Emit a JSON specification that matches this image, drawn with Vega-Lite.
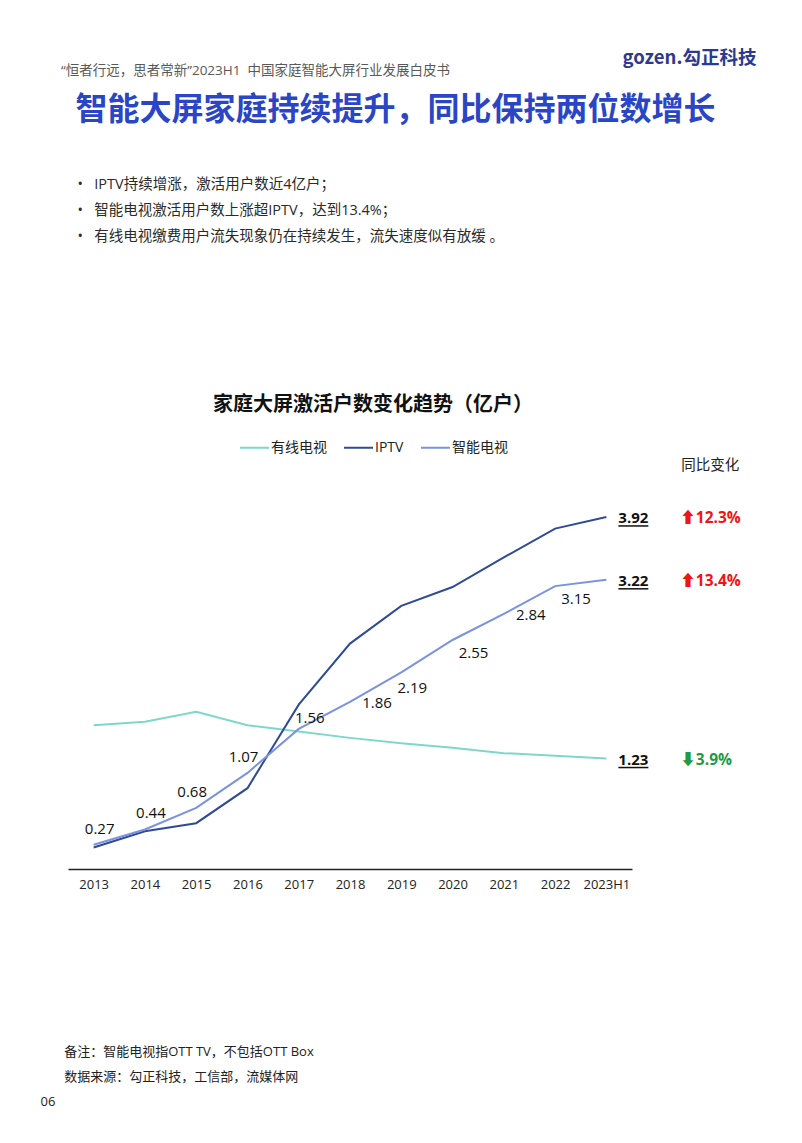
{
  "$schema": "https://vega.github.io/schema/vega-lite/v6.json",
  "width": 564,
  "height": 400,
  "autosize": {"type": "none"},
  "padding": {"left": 68, "top": 469, "right": 170, "bottom": 274},
  "background": "white",
  "config": {
    "view": {"stroke": null},
    "font": "Open Sans, Noto Sans CJK SC",
    "text": {"font": "Open Sans, Noto Sans CJK SC"}
  },
  "title": {
    "text": "“恒者行远，思者常新”2023H1\u00a0\u00a0中国家庭智能大屏行业发展白皮书",
    "subtitle": "\u200b\u00a0\u00a0智能大屏家庭持续提升，同比保持两位数增长",
    "anchor": "start",
    "frame": "group",
    "font": "Open Sans, Noto Sans CJK SC",
    "fontSize": 13.5,
    "fontWeight": "normal",
    "color": "#595959",
    "subtitleFont": "Noto Sans CJK SC",
    "subtitleFontSize": 32,
    "subtitleFontWeight": "bold",
    "subtitleColor": "#2A45C6",
    "subtitlePadding": 18,
    "offset": 0,
    "dx": -7,
    "dy": 78
  },
  "data": {
    "values": [
      {"year": "2013", "series": "有线电视", "value": 1.60},
      {"year": "2014", "series": "有线电视", "value": 1.64},
      {"year": "2015", "series": "有线电视", "value": 1.75},
      {"year": "2016", "series": "有线电视", "value": 1.60},
      {"year": "2017", "series": "有线电视", "value": 1.53},
      {"year": "2018", "series": "有线电视", "value": 1.46},
      {"year": "2019", "series": "有线电视", "value": 1.40},
      {"year": "2020", "series": "有线电视", "value": 1.35},
      {"year": "2021", "series": "有线电视", "value": 1.29},
      {"year": "2022", "series": "有线电视", "value": 1.26},
      {"year": "2023H1", "series": "有线电视", "value": 1.23, "yoy": "⬇3.9%"},
      {"year": "2013", "series": "IPTV", "value": 0.24},
      {"year": "2014", "series": "IPTV", "value": 0.42},
      {"year": "2015", "series": "IPTV", "value": 0.51},
      {"year": "2016", "series": "IPTV", "value": 0.90},
      {"year": "2017", "series": "IPTV", "value": 1.83},
      {"year": "2018", "series": "IPTV", "value": 2.51},
      {"year": "2019", "series": "IPTV", "value": 2.93},
      {"year": "2020", "series": "IPTV", "value": 3.14},
      {"year": "2021", "series": "IPTV", "value": 3.47},
      {"year": "2022", "series": "IPTV", "value": 3.79},
      {"year": "2023H1", "series": "IPTV", "value": 3.92, "yoy": "⬆12.3%"},
      {"year": "2013", "series": "智能电视", "value": 0.27},
      {"year": "2014", "series": "智能电视", "value": 0.44},
      {"year": "2015", "series": "智能电视", "value": 0.68},
      {"year": "2016", "series": "智能电视", "value": 1.07},
      {"year": "2017", "series": "智能电视", "value": 1.56},
      {"year": "2018", "series": "智能电视", "value": 1.86},
      {"year": "2019", "series": "智能电视", "value": 2.19},
      {"year": "2020", "series": "智能电视", "value": 2.55},
      {"year": "2021", "series": "智能电视", "value": 2.84},
      {"year": "2022", "series": "智能电视", "value": 3.15},
      {"year": "2023H1", "series": "智能电视", "value": 3.22, "yoy": "⬆13.4%"}
    ]
  },
  "encoding": {
    "x": {
      "field": "year",
      "type": "ordinal",
      "scale": {"type": "point", "padding": 0.5},
      "axis": {
        "domain": true,
        "domainColor": "#222222",
        "domainWidth": 1.5,
        "ticks": false,
        "grid": false,
        "labelAngle": 0,
        "labelFontSize": 13,
        "labelColor": "#222222",
        "labelPadding": 9,
        "title": ["\u200b\u00a0\u00a0\u00a0\u00a0\u00a0\u00a0\u00a0备注：智能电视指OTT TV，不包括OTT Box", "\u200b\u00a0\u00a0\u00a0\u00a0\u00a0\u00a0\u00a0数据来源：勾正科技，工信部，流媒体网", "06"],
        "titleFontSize": 13,
        "titleFontWeight": "normal",
        "titleColor": "#222222",
        "titleAlign": "left",
        "titleAnchor": null,
        "titleBaseline": "top",
        "titleLineHeight": 25,
        "titleX": -28,
        "titleY": 176
      }
    },
    "y": {
      "field": "value",
      "type": "quantitative",
      "scale": {"domain": [0, 4.454], "nice": false, "zero": true},
      "axis": null
    }
  },
  "layer": [
    {
      "mark": {"type": "line", "strokeWidth": 2},
      "encoding": {
        "y": {
          "field": "value",
          "type": "quantitative",
          "scale": {"domain": [0, 4.454], "nice": false, "zero": true},
          "axis": {
            "orient": "left",
            "domain": false,
            "ticks": false,
            "labels": false,
            "grid": false,
            "title": ["•\u00a0\u00a0\u00a0IPTV持续增涨，激活用户数近4亿户；", "•\u00a0\u00a0\u00a0智能电视激活用户数上涨超IPTV，达到13.4%；", "•\u00a0\u00a0\u00a0有线电视缴费用户流失现象仍在持续发生，流失速度似有放缓 。"],
            "titleAngle": 0,
            "titleAlign": "left",
            "titleAnchor": null,
            "titleBaseline": "top",
            "titleFontSize": 14.5,
            "titleFontWeight": "normal",
            "titleColor": "#2A2A2A",
            "titleLineHeight": 26,
            "titleX": 9,
            "titleY": -292
          }
        },
        "color": {
          "field": "series",
          "type": "nominal",
          "scale": {"domain": ["有线电视", "IPTV", "智能电视"], "range": ["#7DD8C9", "#2F4B95", "#7B92E0"]},
          "legend": {
            "orient": "none",
            "legendX": 145,
            "legendY": -74,
            "direction": "horizontal",
            "title": "家庭大屏激活户数变化趋势（亿户）",
            "titleFont": "Noto Sans CJK SC",
            "titleFontSize": 20,
            "titleFontWeight": "bold",
            "titleColor": "#111111",
            "titleAnchor": "middle",
            "titleLimit": 600,
            "titlePadding": 17,
            "labelFontSize": 14,
            "labelColor": "#222222",
            "labelLimit": 200,
            "labelOffset": 1,
            "symbolType": "stroke",
            "symbolSize": 841,
            "symbolStrokeWidth": 2,
            "columnPadding": 13,
            "padding": 0
          }
        }
      }
    },
    {
      "transform": [{"filter": {"field": "series", "equal": "智能电视"}}, {"filter": {"field": "year", "oneOf": ["2013", "2014"]}}],
      "mark": {"type": "text", "fontSize": 15, "color": "#111111", "dx": 6, "dy": -16, "baseline": "middle"},
      "encoding": {"text": {"field": "value", "type": "quantitative", "format": ".2f"}}
    },
    {
      "transform": [{"filter": {"field": "series", "equal": "智能电视"}}, {"filter": {"field": "year", "oneOf": ["2015", "2016"]}}],
      "mark": {"type": "text", "fontSize": 15, "color": "#111111", "dx": -4, "dy": -16, "baseline": "middle"},
      "encoding": {"text": {"field": "value", "type": "quantitative", "format": ".2f"}}
    },
    {
      "transform": [{"filter": {"field": "series", "equal": "智能电视"}}, {"filter": {"field": "year", "oneOf": ["2017"]}}],
      "mark": {"type": "text", "fontSize": 15, "color": "#111111", "dx": 11, "dy": -11, "baseline": "middle"},
      "encoding": {"text": {"field": "value", "type": "quantitative", "format": ".2f"}}
    },
    {
      "transform": [{"filter": {"field": "series", "equal": "智能电视"}}, {"filter": {"field": "year", "oneOf": ["2018", "2021"]}}],
      "mark": {"type": "text", "fontSize": 15, "color": "#111111", "dx": 27, "dy": 1, "baseline": "middle"},
      "encoding": {"text": {"field": "value", "type": "quantitative", "format": ".2f"}}
    },
    {
      "transform": [{"filter": {"field": "series", "equal": "智能电视"}}, {"filter": {"field": "year", "oneOf": ["2019"]}}],
      "mark": {"type": "text", "fontSize": 15, "color": "#111111", "dx": 11, "dy": 16, "baseline": "middle"},
      "encoding": {"text": {"field": "value", "type": "quantitative", "format": ".2f"}}
    },
    {
      "transform": [{"filter": {"field": "series", "equal": "智能电视"}}, {"filter": {"field": "year", "oneOf": ["2020", "2022"]}}],
      "mark": {"type": "text", "fontSize": 15, "color": "#111111", "dx": 21, "dy": 13, "baseline": "middle"},
      "encoding": {"text": {"field": "value", "type": "quantitative", "format": ".2f"}}
    },
    {
      "transform": [{"filter": {"field": "year", "equal": "2023H1"}}],
      "mark": {"type": "text", "fontSize": 15, "fontWeight": "bold", "color": "#111111", "align": "left", "dx": 12, "dy": 1, "baseline": "middle"},
      "encoding": {"text": {"field": "value", "type": "quantitative", "format": ".2f"}}
    },
    {
      "transform": [{"filter": {"field": "year", "equal": "2023H1"}}],
      "mark": {"type": "tick", "orient": "horizontal", "size": 30, "thickness": 1.5, "xOffset": 27, "yOffset": 9, "color": "#111111", "opacity": 1},
      "encoding": {
        "y": {
          "field": "value",
          "type": "quantitative",
          "scale": {"domain": [0, 4.454], "nice": false, "zero": true},
          "axis": {
            "orient": "right",
            "domain": false,
            "ticks": false,
            "labels": false,
            "grid": false,
            "title": "gozen.勾正科技",
            "titleAngle": 0,
            "titleAlign": "left",
            "titleAnchor": null,
            "titleBaseline": "middle",
            "titleFont": "Noto Sans CJK SC",
            "titleFontSize": 18.5,
            "titleFontWeight": "bold",
            "titleColor": "#2B3990",
            "titleX": -10,
            "titleY": -412
          }
        }
      }
    },
    {
      "transform": [{"filter": {"field": "year", "equal": "2023H1"}}, {"filter": {"field": "series", "oneOf": ["IPTV", "智能电视"]}}],
      "mark": {"type": "text", "fontSize": 15.5, "fontWeight": "bold", "color": "#F01414", "align": "left", "dx": 74, "dy": 1, "baseline": "middle"},
      "encoding": {"text": {"field": "yoy", "type": "nominal"}}
    },
    {
      "transform": [{"filter": {"field": "year", "equal": "2023H1"}}, {"filter": {"field": "series", "equal": "有线电视"}}],
      "mark": {"type": "text", "fontSize": 15.5, "fontWeight": "bold", "color": "#1F9A45", "align": "left", "dx": 74, "dy": 1, "baseline": "middle"},
      "encoding": {"text": {"field": "yoy", "type": "nominal"}}
    },
    {
      "transform": [{"filter": {"field": "year", "equal": "2023H1"}}, {"filter": {"field": "series", "equal": "IPTV"}}],
      "mark": {"type": "text", "text": "同比变化", "fontSize": 14.5, "color": "#222222", "align": "center", "dx": 104, "dy": -51, "baseline": "middle"}
    }
  ],
  "resolve": {"axis": {"y": "independent"}}
}
